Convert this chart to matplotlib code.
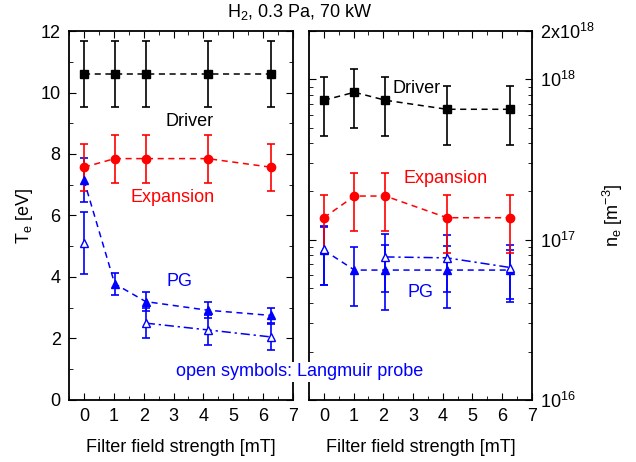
import numpy as np
import matplotlib.pyplot as plt
from matplotlib.ticker import MultipleLocator, FixedLocator, FixedFormatter

plt.rcParams['font.family'] = ['Liberation Sans', 'DejaVu Sans']
plt.rcParams['mathtext.fontset'] = 'custom'
plt.rcParams['mathtext.rm'] = 'Liberation Sans'
plt.rcParams['mathtext.it'] = 'Liberation Sans'

# filtro magnetico (mT)
campo = [0, 1.03, 2.07, 4.14, 6.27]
campo_open = [0, 2.07, 4.14, 6.27]

# temperatura eletronica (eV)
te_driver = [10.6, 10.6, 10.6, 10.6, 10.6]
te_driver_err = [1.06, 1.06, 1.06, 1.06, 1.06]
te_exp = [7.57, 7.85, 7.85, 7.85, 7.57]
te_exp_err = [0.76, 0.78, 0.78, 0.78, 0.76]
te_pg = [7.15, 3.78, 3.2, 2.92, 2.75]
te_pg_err = [0.72, 0.36, 0.3, 0.26, 0.25]
te_pg_open = [5.1, 2.5, 2.28, 2.05]
te_pg_open_err = [1.0, 0.5, 0.5, 0.42]

# densidade eletronica (m^-3)
ne_driver = [7.4e17, 8.3e17, 7.4e17, 6.5e17, 6.5e17]
ne_driver_err = [2.95e17, 3.3e17, 2.95e17, 2.6e17, 2.6e17]
ne_exp = [1.37e17, 1.87e17, 1.87e17, 1.37e17, 1.37e17]
ne_exp_err = [0.54e17, 0.74e17, 0.74e17, 0.54e17, 0.54e17]
ne_pg = [0.86e17, 0.646e17, 0.646e17, 0.646e17, 0.646e17]
ne_pg_err = [0.34e17, 0.26e17, 0.28e17, 0.27e17, 0.22e17]
ne_pg_open = [0.875e17, 0.78e17, 0.77e17, 0.67e17]
ne_pg_open_err = [0.35e17, 0.31e17, 0.3e17, 0.26e17]

AZUL = '#0000ff'
VERMELHO = '#ff0000'
FS = 13

fig = plt.figure(figsize=(6.36, 4.62), dpi=100)
ax1 = fig.add_axes([0.1085, 0.1342, 0.3522, 0.7987])
ax2 = fig.add_axes([0.4858, 0.1342, 0.3506, 0.7987])

eb = dict(capsize=3, elinewidth=1.2, capthick=1.2, lw=1.1)

def desenhar(ax, pg, pg_err, pg_o, pg_o_err, exp, exp_err, drv, drv_err):
    # PG (preenchido e aberto)
    ax.errorbar(campo, pg, yerr=pg_err, color=AZUL, marker='^', ms=6, ls=(0, (4, 3)), **eb)
    ax.errorbar(campo_open[1:], pg_o[1:], yerr=pg_o_err[1:], color=AZUL, marker='^', ms=6,
                mfc='white', ls=(0, (6, 2.5, 1.5, 2.5)), **eb)
    ax.errorbar(campo_open[:1], pg_o[:1], yerr=pg_o_err[:1], color=AZUL, marker='^', ms=6,
                mfc='white', ls='none', **eb)
    # Expansion
    ax.errorbar(campo, exp, yerr=exp_err, color=VERMELHO, marker='o', ms=6, ls=(0, (4, 3)), **eb)
    # Driver
    ax.errorbar(campo, drv, yerr=drv_err, color='black', marker='s', ms=5.5, ls=(0, (4, 3)), **eb)

    ax.set_xlim(-0.5, 7)
    ax.xaxis.set_major_locator(MultipleLocator(1))
    ax.xaxis.set_minor_locator(MultipleLocator(0.5))
    ax.tick_params(which='both', direction='in', top=True, right=True, labelsize=FS, pad=6)
    ax.tick_params(which='major', length=5)
    ax.tick_params(which='minor', length=3)
    ax.set_xlabel('Filter field strength [mT]', fontsize=FS, labelpad=10)
    for s in ax.spines.values():
        s.set_linewidth(1.3)

desenhar(ax1, te_pg, te_pg_err, te_pg_open, te_pg_open_err, te_exp, te_exp_err, te_driver, te_driver_err)
desenhar(ax2, ne_pg, ne_pg_err, ne_pg_open, ne_pg_open_err, ne_exp, ne_exp_err, ne_driver, ne_driver_err)

ax1.set_ylim(0, 12)
ax1.yaxis.set_major_locator(MultipleLocator(2))
ax1.yaxis.set_minor_locator(MultipleLocator(1))
ax1.set_ylabel('T$_e$ [eV]', fontsize=FS, labelpad=4)

ax2.set_yscale('log')
ax2.set_ylim(1e16, 2e18)
ax2.yaxis.set_major_locator(FixedLocator([1e16, 1e17, 1e18, 2e18]))
ax2.yaxis.set_major_formatter(FixedFormatter(['10$^{16}$', '10$^{17}$', '10$^{18}$', '2x10$^{18}$']))
ax2.tick_params(axis='y', labelleft=False, labelright=True)
ax2.yaxis.set_label_position('right')
ax2.set_ylabel('n$_e$ [m$^{-3}$]', fontsize=FS, labelpad=4)

# rotulos das regioes
ax1.text(3.55, 9.07, 'Driver', fontsize=FS, ha='center', va='center', color='black')
ax1.text(2.98, 6.6, 'Expansion', fontsize=FS, ha='center', va='center', color=VERMELHO)
ax1.text(3.2, 3.85, 'PG', fontsize=FS, ha='center', va='center', color=AZUL)
ax2.text(3.13, 8.8e17, 'Driver', fontsize=FS, ha='center', va='center', color='black')
ax2.text(4.1, 2.4e17, 'Expansion', fontsize=FS, ha='center', va='center', color=VERMELHO)
ax2.text(3.24, 4.7e16, 'PG', fontsize=FS, ha='center', va='center', color=AZUL)

fig.text(300 / 636, 1 - 372 / 462, 'open symbols: Langmuir probe', fontsize=FS, ha='center',
         va='center', color=AZUL, zorder=5,
         bbox=dict(facecolor='white', edgecolor='none', pad=1))
fig.text(300 / 636, 1 - 12 / 462, 'H$_2$, 0.3 Pa, 70 kW', fontsize=FS, ha='center', va='center')

fig.savefig('out.png', dpi=100)
